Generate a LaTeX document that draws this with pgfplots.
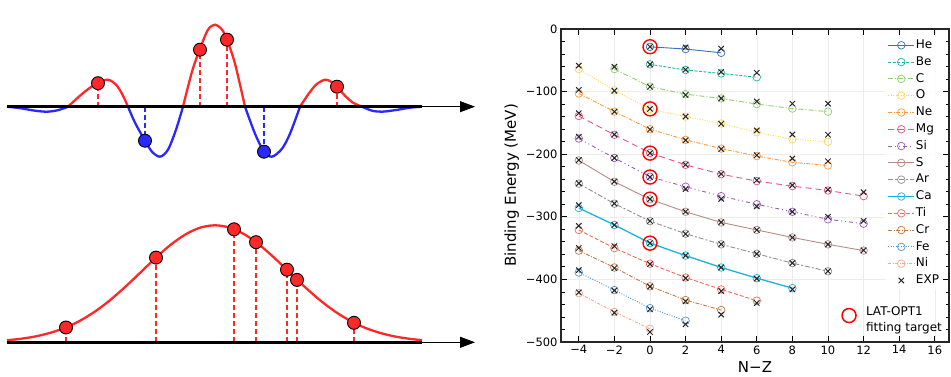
\documentclass[border=0pt]{standalone}
\usepackage{pgfplots}
\pgfplotsset{compat=1.18}
\usepackage{fontspec}
\setmainfont{DejaVu Sans}
\usetikzlibrary{arrows.meta}

\definecolor{cHe}{HTML}{3B6FB6}
\definecolor{cBe}{HTML}{2BB3A3}
\definecolor{cC}{HTML}{8FCE6D}
\definecolor{cO}{HTML}{FFD54F}
\definecolor{cNe}{HTML}{FF9A3C}
\definecolor{cMg}{HTML}{E75480}
\definecolor{cSi}{HTML}{9E58B8}
\definecolor{cS}{HTML}{B58B83}
\definecolor{cAr}{HTML}{909090}
\definecolor{cCa}{HTML}{21B1D6}
\definecolor{cTi}{HTML}{F06A5A}
\definecolor{cCr}{HTML}{C47849}
\definecolor{cFe}{HTML}{5296D5}
\definecolor{cNi}{HTML}{F5A78B}
\definecolor{wred}{RGB}{255,40,40}
\definecolor{wblue}{RGB}{40,40,255}

\begin{document}
\begin{tikzpicture}[x=1pt,y=1pt]
\path[use as bounding box] (0pt,0pt) rectangle (951pt,377pt);

% ---------- left top: wave packet ----------
\begin{axis}[at={(0pt,170.3pt)}, anchor=south west, scale only axis,
  width=480pt, height=200pt, xmin=0, xmax=480, ymin=-100, ymax=100,
  hide axis, clip=false]
\addplot[wblue, line width=2.3pt, smooth] coordinates {(7,0)(20,-1.5)(35,-4)(47,-5)(58,-3.5)(68,0)};
\addplot[wred, line width=2.3pt, smooth] coordinates {(68,0)(80,11)(90,19)(98,24)(108,27)(116,22)(122,13)(128,0)};
\addplot[wblue, line width=2.3pt, smooth] coordinates {(128,0)(135,-16)(145,-34)(152,-45)(160,-50)(168,-43)(176,-23)(183,0)};
\addplot[wred, line width=2.3pt, smooth] coordinates {(183,0)(192,35)(200,58)(208,77)(215,82)(222,77)(227,67)(235,43)(245,0)};
\addplot[wblue, line width=2.3pt, smooth] coordinates {(245,0)(255,-27)(264,-45)(272,-50)(282,-42)(290,-27)(300,0)};
\addplot[wred, line width=2.3pt, smooth] coordinates {(300,0)(308,12)(316,22)(325,27)(331,25)(337,20)(345,11)(353,4)(362,0)};
\addplot[wblue, line width=2.3pt, smooth] coordinates {(362,0)(372,-4)(382,-5)(395,-3.5)(410,-1)(422,0)};
% dashed drops
\addplot[wred, line width=1.4pt, dash pattern=on 5pt off 3pt] coordinates {(98,0)(98,23.5)};
\addplot[wred, line width=1.4pt, dash pattern=on 5pt off 3pt] coordinates {(200,0)(200,57)};
\addplot[wred, line width=1.4pt, dash pattern=on 5pt off 3pt] coordinates {(227,0)(227,67)};
\addplot[wred, line width=1.4pt, dash pattern=on 5pt off 3pt] coordinates {(337,0)(337,20)};
\addplot[wblue, line width=1.4pt, dash pattern=on 5pt off 3pt] coordinates {(145,0)(145,-34)};
\addplot[wblue, line width=1.4pt, dash pattern=on 5pt off 3pt] coordinates {(264,0)(264,-45)};
% axis line + arrow
\addplot[black, line width=2.8pt] coordinates {(7,0)(422,0)};
\addplot[black, line width=0.8pt, -{Triangle[length=15pt,width=11pt]}] coordinates {(422,0)(475,0)};
% markers
\addplot[only marks, mark=*, mark size=6.5pt, mark options={fill=wred, draw=black, line width=0.9pt}] coordinates {(98,23.5)(200,57)(227,67)(337,20)};
\addplot[only marks, mark=*, mark size=6.5pt, mark options={fill=wblue, draw=black, line width=0.9pt}] coordinates {(145,-34)(264,-45)};
\end{axis}

% ---------- left bottom: gaussian ----------
\begin{axis}[at={(0pt,34.7pt)}, anchor=south west, scale only axis,
  width=480pt, height=150pt, xmin=0, xmax=480, ymin=0, ymax=150,
  hide axis, clip=false]
\addplot[wred, line width=2.3pt, smooth] coordinates {
(7,2.1)(20,3.4)(35,5.8)(50,9.4)(65,14.5)(80,21.6)(95,30.8)(110,42.1)(125,55.2)(140,69.4)(155,83.8)(170,97.0)(185,107.6)(200,114.6)(215,117)(230,114.6)(245,107.6)(260,97.0)(275,83.8)(290,69.4)(305,55.2)(320,42.1)(335,30.8)(350,21.6)(365,14.5)(380,9.4)(395,5.8)(410,3.4)(422,2.2)};
\addplot[wred, line width=1.4pt, dash pattern=on 5pt off 3pt] coordinates {(66,0)(66,14.8)};
\addplot[wred, line width=1.4pt, dash pattern=on 5pt off 3pt] coordinates {(156,0)(156,84.7)};
\addplot[wred, line width=1.4pt, dash pattern=on 5pt off 3pt] coordinates {(234,0)(234,113)};
\addplot[wred, line width=1.4pt, dash pattern=on 5pt off 3pt] coordinates {(256,0)(256,100.1)};
\addplot[wred, line width=1.4pt, dash pattern=on 5pt off 3pt] coordinates {(287,0)(287,72.6)};
\addplot[wred, line width=1.4pt, dash pattern=on 5pt off 3pt] coordinates {(297,0)(297,62.4)};
\addplot[wred, line width=1.4pt, dash pattern=on 5pt off 3pt] coordinates {(354,0)(354,19.5)};
\addplot[black, line width=2.8pt] coordinates {(7,0)(422,0)};
\addplot[black, line width=0.8pt, -{Triangle[length=15pt,width=11pt]}] coordinates {(422,0)(475,0)};
\addplot[only marks, mark=*, mark size=6.5pt, mark options={fill=wred, draw=black, line width=0.9pt}] coordinates {(66,14.8)(156,84.7)(234,113)(256,100.1)(287,72.6)(297,62.4)(354,19.5)};
\end{axis}

% ---------- right: binding energies ----------
\begin{axis}[at={(561pt,35pt)}, anchor=south west, scale only axis,
  width=388pt, height=313pt,
  xmin=-5, xmax=16.8, ymin=-500, ymax=0,
  xtick={-4,-2,...,16}, xticklabels={−4,−2,0,2,4,6,8,10,12,14,16},
  ytick={-500,-400,...,0}, yticklabels={−500,−400,−300,−200,−100,0},
  minor ytick={-480,-460,...,-20},
  tick align=inside, xtick pos=both, ytick pos=both,
  major tick length=6pt, minor tick length=3.5pt,
  every tick/.style={black, line width=0.8pt},
  axis line style={line width=1.2pt, black!85},
  grid=major, major grid style={gray!15, line width=0.5pt},
  xlabel={N−Z}, ylabel={Binding Energy (MeV)},
  label style={font=\fontsize{15}{18}\selectfont},
  tick label style={font=\fontsize{11.5}{14}\selectfont},
  legend image code/.code={\draw[mark repeat=2,mark phase=2] plot coordinates {(0pt,0pt)(13pt,0pt)(26pt,0pt)};},
  legend cell align=left,
  legend style={draw=none, fill=white, fill opacity=0.85, text opacity=1,
    at={(0.985,0.975)}, anchor=north east, font=\fontsize{12}{14}\selectfont,
    nodes={inner sep=1pt, text height=8.5pt, text depth=2pt}, row sep=4.3pt},
  every axis plot/.append style={line width=0.9pt, mark=o, mark size=3.8pt, mark options={solid, line width=0.7pt}},
  clip=false]
\addplot[cHe] coordinates {(0,-28.5)(2,-32)(4,-38)};
\addlegendentry{He}
\addplot[cBe, dash pattern=on 3pt off 1.5pt] coordinates {(0,-56.5)(2,-65.5)(4,-71)(6,-77)};
\addlegendentry{Be}
\addplot[cC, dash pattern=on 5pt off 2pt on 1pt off 2pt] coordinates {(-2,-64)(0,-92)(2,-104)(4,-111)(6,-120)(8,-127)(10,-132)};
\addlegendentry{C}
\addplot[cO, dash pattern=on 1pt off 1.5pt] coordinates {(-4,-64)(-2,-98)(0,-128)(2,-140)(4,-151)(6,-165)(8,-176)(10,-180)};
\addlegendentry{O}
\addplot[cNe, dash pattern=on 4pt off 1.5pt on 1pt off 1.5pt] coordinates {(-4,-103)(-2,-132)(0,-160)(2,-177)(4,-191)(6,-203)(8,-213)(10,-218)};
\addlegendentry{Ne}
\addplot[cMg, dash pattern=on 6pt off 4pt] coordinates {(-4,-139)(-2,-169)(0,-198)(2,-217)(4,-232)(6,-243)(8,-251)(10,-258)(12,-267)};
\addlegendentry{Mg}
\addplot[cSi, dash pattern=on 4pt off 3pt on 1pt off 3pt on 1pt off 3pt] coordinates {(-4,-175)(-2,-206)(0,-236)(2,-252)(4,-267)(6,-280)(8,-292)(10,-304)(12,-311)};
\addlegendentry{Si}
\addplot[cS] coordinates {(-4,-210)(-2,-244)(0,-272)(2,-292)(4,-309)(6,-321)(8,-333)(10,-344)(12,-354)};
\addlegendentry{S}
\addplot[cAr, dash pattern=on 5pt off 2pt on 2pt off 2pt] coordinates {(-4,-247)(-2,-279)(0,-307)(2,-327)(4,-344)(6,-359)(8,-374)(10,-387)};
\addlegendentry{Ar}
\addplot[cCa, line width=1.3pt] coordinates {(-4,-286)(-2,-313)(0,-342)(2,-362)(4,-381)(6,-398)(8,-414)};
\addlegendentry{Ca}
\addplot[cTi, dash pattern=on 4pt off 2pt] coordinates {(-4,-321)(-2,-350)(0,-375)(2,-397)(4,-416)(6,-434)};
\addlegendentry{Ti}
\addplot[cCr, dash pattern=on 4pt off 1.5pt on 1pt off 1.5pt] coordinates {(-4,-354)(-2,-381)(0,-411)(2,-433)(4,-449)};
\addlegendentry{Cr}
\addplot[cFe, dash pattern=on 1pt off 1.5pt] coordinates {(-4,-389)(-2,-417)(0,-446)(2,-466)};
\addlegendentry{Fe}
\addplot[cNi, dash pattern=on 3pt off 1.5pt on 1pt off 1.5pt] coordinates {(-4,-422)(-2,-452)(0,-479)};
\addlegendentry{Ni}
\addplot[only marks, mark=x, mark size=3.8pt, mark options={black!85, line width=1pt}] table {
x y
0 -28.3
2 -29.3
4 -31.4
0 -56.5
2 -65.0
4 -68.6
6 -69.9
-2 -60.3
0 -92.2
2 -105.3
4 -110.8
6 -115.7
8 -119.2
10 -119.3
-4 -58.5
-2 -98.7
0 -127.6
2 -139.8
4 -151.4
6 -162.0
8 -168.5
10 -168.9
-4 -97.3
-2 -132.1
0 -160.6
2 -177.8
4 -191.8
6 -201.6
8 -206.9
10 -211.3
-4 -134.5
-2 -168.6
0 -198.3
2 -216.7
4 -231.6
6 -241.6
8 -249.7
10 -256.7
12 -260.8
-4 -172.0
-2 -206.0
0 -236.5
2 -255.6
4 -271.4
6 -283.4
8 -292.0
10 -299.9
12 -306.5
-4 -209.4
-2 -243.7
0 -271.8
2 -291.8
4 -308.7
6 -321.0
8 -333.2
10 -344.1
12 -353.6
-4 -246.4
-2 -278.7
0 -306.7
2 -327.3
4 -343.8
6 -359.3
8 -373.7
10 -386.9
-4 -281.4
-2 -313.1
0 -342.1
2 -361.9
4 -381.0
6 -398.8
8 -416.0
-4 -314.5
-2 -346.9
0 -375.5
2 -398.2
4 -418.7
6 -437.8
-4 -349.8
-2 -382.0
0 -411.5
2 -435.0
4 -456.3
-4 -385.2
-2 -417.7
0 -447.7
2 -471.8
-4 -420.6
-2 -453.2
0 -484.0
};
\addlegendentry{EXP}
\addplot[forget plot, only marks, mark=o, mark size=7pt, mark options={red, line width=1.4pt}] coordinates {(0,-28.3)(0,-127.6)(0,-198.3)(0,-236.5)(0,-271.8)(0,-342.1)};
\end{axis}

% second legend for fitting targets
\begin{axis}[at={(561pt,35pt)}, anchor=south west, scale only axis,
  width=388pt, height=313pt, xmin=0, xmax=1, ymin=0, ymax=1, hide axis,
  legend cell align=left,
  legend style={draw=none, fill=none, at={(0.995,0.04)}, anchor=south east,
    font=\fontsize{12}{14}\selectfont, nodes={inner sep=2pt}, column sep=8pt},
  legend image code/.code={\draw[mark repeat=2,mark phase=2] plot coordinates {(0pt,0pt)(12pt,0pt)(24pt,0pt)};}]
\addlegendimage{only marks, mark=o, mark size=7pt, mark options={red, line width=1.5pt}}
\addlegendentry{\begin{tabular}{@{}l@{}}LAT-OPT1\\[2pt]fitting target\end{tabular}}
\end{axis}
\end{tikzpicture}
\end{document}
